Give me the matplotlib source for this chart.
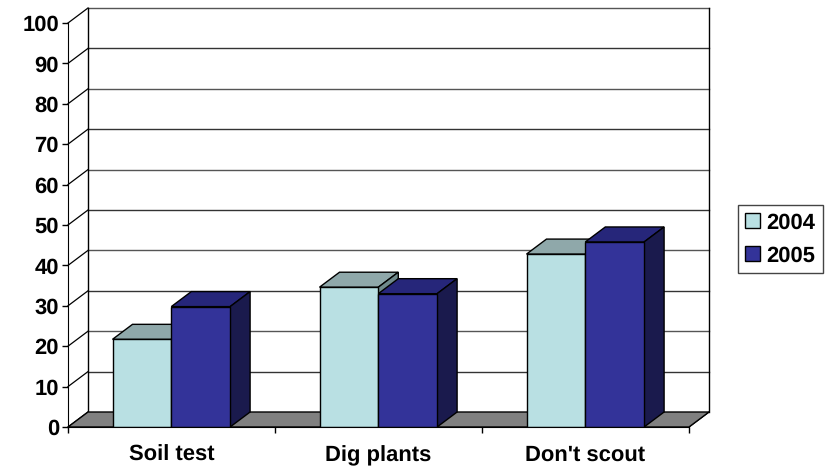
import matplotlib
matplotlib.use("Agg")
import matplotlib.pyplot as plt
from matplotlib.patches import Polygon, Patch

categories = ["Soil test", "Dig plants", "Don't scout"]
series_names = ["2004", "2005"]
values_2004 = [21.7, 34.6, 42.8]
values_2005 = [29.8, 33.0, 45.8]
yticks = list(range(0, 101, 10))

W, H = 831, 471
L, R, T, B = 68, 709, 8, 427   # plot box in pixels
DX_PX, DY_PX = 20, 15
CAT_PX = 207
YU_PX = 404 / 100
FS = 16.2

plt.rcParams["font.family"] = ["Liberation Sans", "DejaVu Sans"]
plt.rcParams["font.weight"] = "bold"
plt.rcParams["text.hinting"] = "none"
plt.rcParams["text.hinting_factor"] = 1
fig = plt.figure(figsize=(W / 100, H / 100), dpi=100)
ax = fig.add_axes([L / W, 1 - B / H, (R - L) / W, (B - T) / H])
dx = DX_PX / CAT_PX
dy = DY_PX / YU_PX
n = len(categories)
ax.set_xlim(0, n + dx)
ax.set_ylim(0, 100 + dy)

COL = {
    "2004": ("#B9E0E3", "#8FA8AA", "#6F8A8C"),
    "2005": ("#333399", "#26267A", "#1A1A4D"),
}
EDGE = "black"
LW = 1.0

# floor
ax.add_patch(Polygon([(0, 0), (n, 0), (n + dx, dy), (dx, dy)], closed=True,
                     facecolor="#808080", edgecolor=EDGE, lw=LW, zorder=1, clip_on=False))
# walls and gridlines
for v in yticks:
    ax.plot([0, dx], [v, v + dy], color=EDGE, lw=0.9, zorder=0.8, clip_on=False)
    if v > 0:
        ax.plot([dx, n + dx], [v + dy, v + dy], color="#333333" if v % 20 else "#555555",
                lw=1.0, zorder=0.8, clip_on=False)
ax.plot([dx, dx], [dy, 100 + dy], color=EDGE, lw=LW, zorder=0.9, clip_on=False)
ax.plot([n + dx, n + dx], [dy, 100 + dy], color=EDGE, lw=LW, zorder=0.9, clip_on=False)
ax.plot([n, n + dx], [0, dy], color=EDGE, lw=0.9, zorder=0.9, clip_on=False)

# bars
bw = 58.8 / CAT_PX
def bar3d(x0, v, cols, z):
    front, top, side = cols
    ax.bar(x0, v, width=bw, align="edge", color=front, edgecolor=EDGE, lw=LW, zorder=z + 0.2)
    ax.add_patch(Polygon([(x0, v), (x0 + bw, v), (x0 + bw + dx, v + dy), (x0 + dx, v + dy)],
                         closed=True, facecolor=top, edgecolor=EDGE, lw=LW, zorder=z))
    ax.add_patch(Polygon([(x0 + bw, 0), (x0 + bw + dx, dy), (x0 + bw + dx, v + dy), (x0 + bw, v)],
                         closed=True, facecolor=side, edgecolor=EDGE, lw=LW, zorder=z))

for i in range(n):
    xc = i + 0.5 - 0.2 / CAT_PX
    bar3d(xc - bw, values_2004[i], COL["2004"], 2)
    bar3d(xc, values_2005[i], COL["2005"], 3)

# axes
for s in ["top", "right"]:
    ax.spines[s].set_visible(False)
ax.spines["left"].set_bounds(0, 100)
ax.spines["bottom"].set_bounds(0, n)
ax.spines["left"].set_zorder(5)
ax.spines["bottom"].set_zorder(5)
ax.set_yticks(yticks)
ax.set_xticks(range(n + 1))
ax.set_xticklabels([""] * (n + 1))
ax.tick_params(axis="y", length=4.5, width=1, pad=2, labelsize=FS)
ax.tick_params(axis="x", length=4.5, width=1)
for i, c in enumerate(categories):
    ax.text(i + 0.5, -(461 - 427) / YU_PX, c, ha="center", va="baseline",
            fontsize=FS, fontweight="bold", clip_on=False)

handles = [Patch(facecolor=COL[s][0], edgecolor=EDGE, lw=LW, label=s) for s in series_names]
leg = fig.legend(handles=handles, loc="upper left",
                 bbox_to_anchor=(738 / W, 1 - 205 / H), bbox_transform=fig.transFigure,
                 fontsize=FS, fancybox=False, framealpha=1, edgecolor="#444444",
                 handlelength=0.66, handleheight=0.66, handletextpad=0.28,
                 borderpad=0.33, labelspacing=0.56, borderaxespad=0)
leg.get_frame().set_linewidth(1)

fig.savefig("out.png", dpi=100)
